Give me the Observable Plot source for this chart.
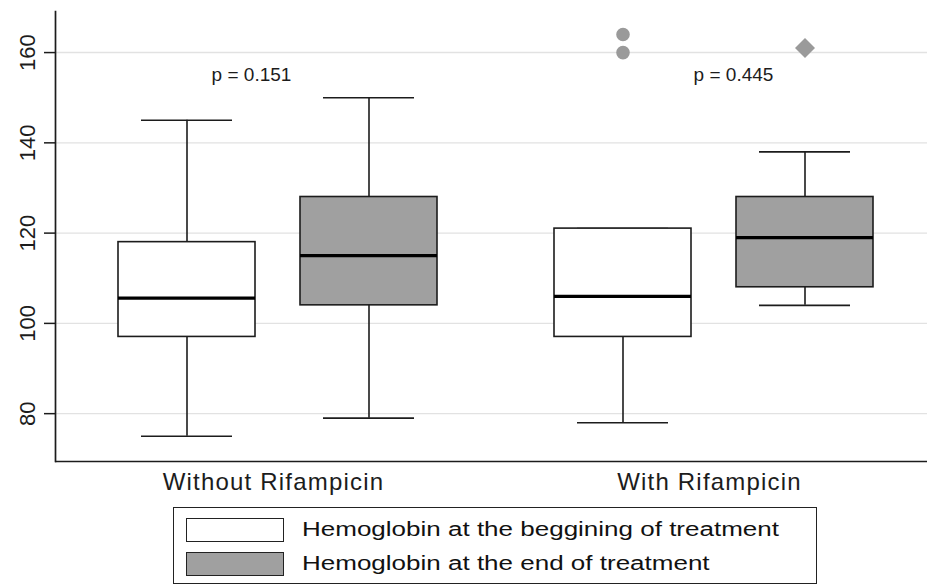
<!DOCTYPE html>
<html>
<head>
<meta charset="utf-8">
<script src="https://cdn.jsdelivr.net/npm/d3@7"></script>
<script src="https://cdn.jsdelivr.net/npm/@observablehq/plot@0.6"></script>
<style>
  html, body { margin: 0; padding: 0; background: #fff; overflow: hidden; }
  body { width: 927px; height: 586px; position: relative; font-family: "Liberation Sans", Arial, sans-serif; }
  #chart svg { display: block; font-family: "Liberation Sans", Arial, sans-serif; }
  g[aria-label="fx-axis tick label"] { letter-spacing: 1.2px; }
  g[aria-label="pvalue"] { letter-spacing: 2.2px; }
  #legend { position: absolute; left: 173px; top: 507px; width: 642px; height: 75px; border: 1.5px solid #222; }
  .row { position: absolute; left: 12px; height: 24px; }
  .sw { position: absolute; left: 0; top: 0; width: 96px; height: 22px; border: 1.5px solid #222; }
  .lab { position: absolute; left: 116px; top: -1px; font-size: 20px; line-height: 24px; white-space: nowrap; color: #111; transform: scaleX(1.3); transform-origin: left center; }
</style>
</head>
<body>
<div id="chart"></div>
<div id="legend"></div>
<script>
// ---- data ----
const groups = ["Without Rifampicin", "With Rifampicin"];
const seriesNames = ["Hemoglobin at the beggining of treatment", "Hemoglobin at the end of treatment"];
const seriesColors = ["#ffffff", "#a0a0a0"];

const boxGroup  = ["Without Rifampicin", "Without Rifampicin", "With Rifampicin", "With Rifampicin"];
const boxSeries = [seriesNames[0], seriesNames[1], seriesNames[0], seriesNames[1]];
const whiskerLow  = [75, 79, 78, 104];
const q1          = [97, 104, 97, 108];
const median      = [105.6, 115, 106, 119];
const q3          = [118, 128, 121, 128];
const whiskerHigh = [145, 150, 121, 138];

const outGroup  = ["With Rifampicin", "With Rifampicin", "With Rifampicin"];
const outSeries = [seriesNames[0], seriesNames[0], seriesNames[1]];
const outValue  = [160, 164, 161];

const pGroup = ["Without Rifampicin", "With Rifampicin"];
const pText  = ["p = 0.151", "p = 0.445"];

const yTicks = [80, 100, 120, 140, 160];

// ---- tables ----
const boxes = boxGroup.map((g, i) => ({
  group: g, series: boxSeries[i], lo: whiskerLow[i], q1: q1[i], med: median[i], q3: q3[i], hi: whiskerHigh[i]
}));
const outliers = outGroup.map((g, i) => ({group: g, series: outSeries[i], value: outValue[i]}));
const pLabels = pGroup.map((g, i) => ({group: g, text: pText[i]}));

const ink = "#1c1c1c";
const chart = Plot.plot({
  width: 927,
  height: 500,
  marginLeft: 54,
  marginRight: 0,
  marginTop: 11,
  marginBottom: 39,
  style: {fontFamily: "Liberation Sans, Arial, sans-serif", color: ink, background: "white"},
  fx: {domain: groups, paddingInner: 0, paddingOuter: 0, label: null},
  x: {domain: seriesNames, paddingInner: 0.25, paddingOuter: 0.3195, align: 0.533, axis: null},
  y: {domain: [69.4, 169.1], label: null},
  color: {domain: seriesNames, range: seriesColors},
  symbol: {domain: seriesNames, range: ["circle", "diamond2"]},
  marks: [
    Plot.gridY(yTicks, {stroke: "#e2e2e2", strokeOpacity: 1, strokeWidth: 1.4}),
    Plot.axisY(yTicks, {tickSize: 11, tickFormat: () => "", stroke: ink, strokeWidth: 1.5, label: null}),
    Plot.text(yTicks, {y: (d) => d, text: (d) => String(d), frameAnchor: "left", facetAnchor: "left",
      rotate: -90, textAnchor: "middle", lineAnchor: "bottom", dx: -21, fontSize: 22, fill: ink}),
    Plot.axisFx({anchor: "bottom", tickSize: 0, tickPadding: 11, fontSize: 24, label: null}),
    Plot.ruleX(boxes, {fx: "group", x: "series", y1: "lo", y2: "q1", stroke: ink, strokeWidth: 1.6}),
    Plot.ruleX(boxes, {fx: "group", x: "series", y1: "q3", y2: "hi", stroke: ink, strokeWidth: 1.6}),
    Plot.tickY(boxes, {fx: "group", x: "series", y: "lo", stroke: ink, strokeWidth: 1.6, insetLeft: 23, insetRight: 23}),
    Plot.tickY(boxes, {fx: "group", x: "series", y: "hi", stroke: ink, strokeWidth: 1.6, insetLeft: 23, insetRight: 23}),
    Plot.barY(boxes, {fx: "group", x: "series", y1: "q1", y2: "q3", fill: "series", stroke: ink, strokeWidth: 1.6}),
    Plot.tickY(boxes, {fx: "group", x: "series", y: "med", stroke: "#000", strokeWidth: 3.2}),
    Plot.dot(outliers, {filter: (d) => d.series === seriesNames[0], fx: "group", x: "series", y: "value", symbol: "series", fill: "#9a9a9a", stroke: null, r: 6.8}),
    Plot.dot(outliers, {filter: (d) => d.series === seriesNames[1], fx: "group", x: "series", y: "value", symbol: "series", fill: "#9a9a9a", stroke: null, r: 9}),
    Plot.text(pLabels, {filter: (d) => d.group === groups[0], fx: "group", y: () => 153.8, text: "text", lineAnchor: "bottom", dx: -22, fontSize: 19, fill: ink, ariaLabel: "pvalue"}),
    Plot.text(pLabels, {filter: (d) => d.group === groups[1], fx: "group", y: () => 153.8, text: "text", lineAnchor: "bottom", dx: 24, fontSize: 19, fill: ink, ariaLabel: "pvalue"}),
    Plot.ruleY([69.4], {stroke: ink, strokeWidth: 1.7}),
    Plot.frame({anchor: "left", facetAnchor: "left", stroke: ink, strokeWidth: 1.7})
  ]
});
document.getElementById("chart").appendChild(chart);

// ---- legend ----
const legend = document.getElementById("legend");
seriesNames.forEach((name, i) => {
  const row = document.createElement("div");
  row.className = "row";
  row.style.top = (10 + i * 34) + "px";
  const sw = document.createElement("div");
  sw.className = "sw";
  sw.style.background = seriesColors[i];
  const lab = document.createElement("div");
  lab.className = "lab";
  lab.textContent = name;
  row.appendChild(sw);
  row.appendChild(lab);
  legend.appendChild(row);
});
</script>
</body>
</html>
